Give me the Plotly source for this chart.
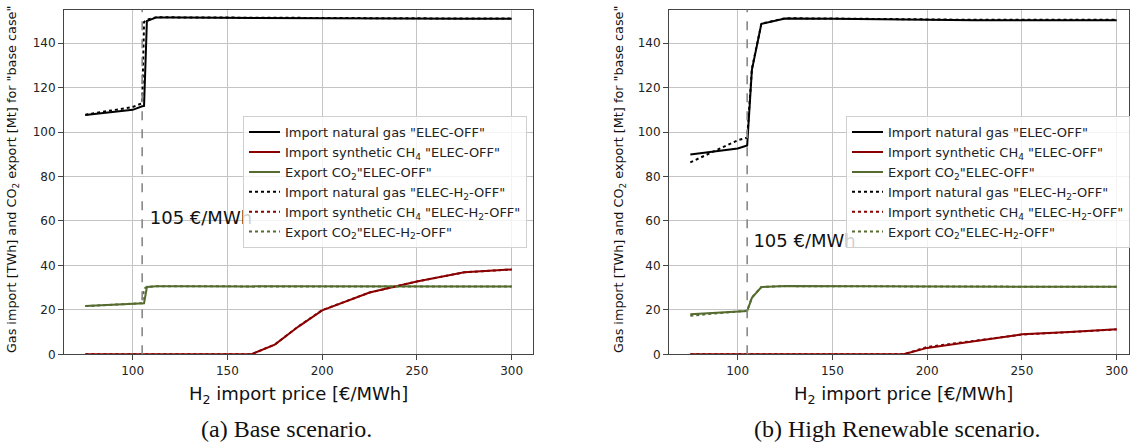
import plotly.graph_objects as go

# ---------------- data ----------------
# (a) Base scenario
base_x = [75, 100, 105, 106, 107.5, 112.5, 125, 150, 162.5, 175, 187.5, 200, 225, 250, 275, 300]
base_ng_off = [107.7, 110.0, 111.6, 111.8, 150.0, 151.6, 151.5, 151.4, 151.3, 151.2, 151.1, 151.0, 151.0, 151.0, 151.0, 151.0]
base_ch4_off = [0, 0, 0, 0, 0, 0, 0, 0, 0, 4.4, 12.5, 19.8, 27.8, 32.8, 36.9, 38.2]
base_co2_off = [21.8, 22.5, 22.9, 23.0, 30.3, 30.6, 30.6, 30.6, 30.6, 30.6, 30.6, 30.5, 30.5, 30.5, 30.5, 30.5]
base_ng_h2off = [107.8, 111.3, 113.0, 149.5, 150.6, 151.7, 151.6, 151.5, 151.4, 151.3, 151.2, 151.1, 151.1, 151.1, 151.1, 151.1]
base_ch4_h2off = [0, 0, 0, 0, 0, 0, 0, 0, 0, 4.4, 12.6, 19.9, 27.8, 32.8, 36.9, 38.2]
base_co2_h2off = [21.7, 22.6, 23.0, 29.5, 30.4, 30.6, 30.6, 30.6, 30.6, 30.6, 30.6, 30.5, 30.5, 30.5, 30.5, 30.5]

# (b) High Renewable scenario
hres_x = [75, 100, 105, 107.5, 112.5, 125, 150, 175, 187.5, 200, 225, 250, 275, 300]
hres_ng_off = [89.9, 92.6, 94.0, 128.0, 148.7, 151.1, 151.0, 150.8, 150.6, 150.3, 150.3, 150.3, 150.3, 150.3]
hres_ch4_off = [0, 0, 0, 0, 0, 0, 0, 0, 0, 2.9, 6.0, 9.0, 10.1, 11.3]
hres_co2_off = [18.0, 19.2, 19.5, 25.4, 30.3, 30.7, 30.6, 30.5, 30.5, 30.4, 30.4, 30.4, 30.4, 30.4]
hres_ng_h2off = [86.4, 96.3, 97.5, 128.5, 148.8, 151.2, 151.1, 150.9, 150.7, 150.5, 150.5, 150.5, 150.5, 150.5]
hres_ch4_h2off = [0, 0, 0, 0, 0, 0, 0, 0, 0, 3.3, 6.2, 8.9, 10.0, 11.2]
hres_co2_h2off = [17.4, 19.0, 19.6, 25.6, 30.3, 30.7, 30.6, 30.5, 30.5, 30.4, 30.4, 30.4, 30.4, 30.4]

names = [
    'Import natural gas "ELEC-OFF"',
    'Import synthetic CH<sub>4</sub> "ELEC-OFF"',
    'Export CO<sub>2</sub>"ELEC-OFF"',
    'Import natural gas "ELEC-H<sub>2</sub>-OFF"',
    'Import synthetic CH<sub>4</sub> "ELEC-H<sub>2</sub>-OFF"',
    'Export CO<sub>2</sub>"ELEC-H<sub>2</sub>-OFF"',
]
colors = ["#000000", "#8B0000", "#556B2F"]
threshold_price = 105
threshold_label = "105 €/MWh"
label_pos_base = (109, 60.7)
label_pos_hres = (108.3, 50.2)
x_ticks = [100, 150, 200, 250, 300]
y_ticks = [0, 20, 40, 60, 80, 100, 120, 140]

# ---------------- figure ----------------
W, H = 1131, 445
fig = go.Figure()

panels = [
    ("x", "y", "legend", base_x, label_pos_base,
     [base_ng_off, base_ch4_off, base_co2_off, base_ng_h2off, base_ch4_h2off, base_co2_h2off]),
    ("x2", "y2", "legend2", hres_x, label_pos_hres,
     [hres_ng_off, hres_ch4_off, hres_co2_off, hres_ng_h2off, hres_ch4_h2off, hres_co2_h2off]),
]
for xa, ya, leg, xs, lpos, series in panels:
    # threshold label drawn as a text trace so the legend box covers it
    fig.add_trace(go.Scatter(
        x=[lpos[0]], y=[lpos[1]], mode="text", text=[threshold_label],
        textposition="middle right", textfont=dict(family="DejaVu Sans", size=18, color="#111111"),
        showlegend=False, hoverinfo="skip", xaxis=xa, yaxis=ya, cliponaxis=False,
    ))
    for i, ys in enumerate(series):
        fig.add_trace(go.Scatter(
            x=xs, y=ys, mode="lines", name=names[i],
            line=dict(color=colors[i % 3], width=2, dash="solid" if i < 3 else "dot"),
            xaxis=xa, yaxis=ya, legend=leg,
        ))

def px_x(p):
    return p / W

def px_y(p):
    return 1 - p / H

axis_common = dict(
    showgrid=True, gridcolor="#c4c4c4", gridwidth=1.4,
    showline=True, linecolor="#444444", linewidth=1, mirror=True,
    ticks="outside", ticklen=5, tickcolor="#444444", tickwidth=1,
    tickfont=dict(family="DejaVu Sans", size=12, color="#222222"),
    zeroline=False,
)
legend_common = dict(
    y=px_y(118), yanchor="top",
    bgcolor="rgba(255,255,255,0.8)", bordercolor="#d0d0d0", borderwidth=1,
    font=dict(family="DejaVu Sans", size=13, color="#222222"),
    tracegroupgap=0, itemwidth=31,
)
fig.update_layout(
    width=W, height=H,
    margin=dict(l=0, r=0, t=0, b=0),
    paper_bgcolor="white", plot_bgcolor="white",
    font=dict(family="DejaVu Sans", color="#111111"),
    xaxis=dict(domain=[px_x(64), px_x(533)], range=[63.75, 311.25], tickvals=x_ticks,
               anchor="y", **axis_common),
    yaxis=dict(domain=[px_y(360), px_y(10)], range=[0, 155], tickvals=y_ticks,
               anchor="x", **axis_common),
    xaxis2=dict(domain=[px_x(669), px_x(1129)], range=[63.75, 306.5], tickvals=x_ticks,
                anchor="y2", **axis_common),
    yaxis2=dict(domain=[px_y(360), px_y(10)], range=[0, 155], tickvals=y_ticks,
                anchor="x2", **axis_common),
    showlegend=True,
    legend=dict(x=px_x(527), xanchor="right", **legend_common),
    legend2=dict(x=px_x(846), xanchor="left", **legend_common),
)

# threshold lines
for xr, yr in [("x", "y"), ("x2", "y2")]:
    fig.add_shape(type="line", xref=xr, yref=f"{yr} domain", x0=threshold_price, x1=threshold_price,
                  y0=0, y1=1, line=dict(color="#888888", width=1.6, dash="dash"))

ann = []
ytitle = 'Gas import [TWh] and CO<sub>2</sub> export [Mt] for "base case"'
for xc in [12, 619]:
    ann.append(dict(xref="paper", yref="paper", x=px_x(xc), y=px_y(183), text=ytitle,
                    textangle=-90, showarrow=False, xanchor="center", yanchor="middle",
                    font=dict(size=12.8, color="#111111")))
xtitle = "H<sub>2</sub> import price [€/MWh]"
for xc in [298, 903]:
    ann.append(dict(xref="paper", yref="paper", x=px_x(xc), y=px_y(401), text=xtitle,
                    showarrow=False, xanchor="center", yanchor="middle",
                    font=dict(size=18, color="#111111")))
captions = ["(a) Base scenario.", "(b) High Renewable scenario."]
for xc, cap in zip([286, 897], captions):
    ann.append(dict(xref="paper", yref="paper", x=px_x(xc), y=px_y(436), text=cap,
                    showarrow=False, xanchor="center", yanchor="middle",
                    font=dict(family="Liberation Serif", size=24, color="#111111")))
fig.update_layout(annotations=ann)

fig.write_html("out.html")
